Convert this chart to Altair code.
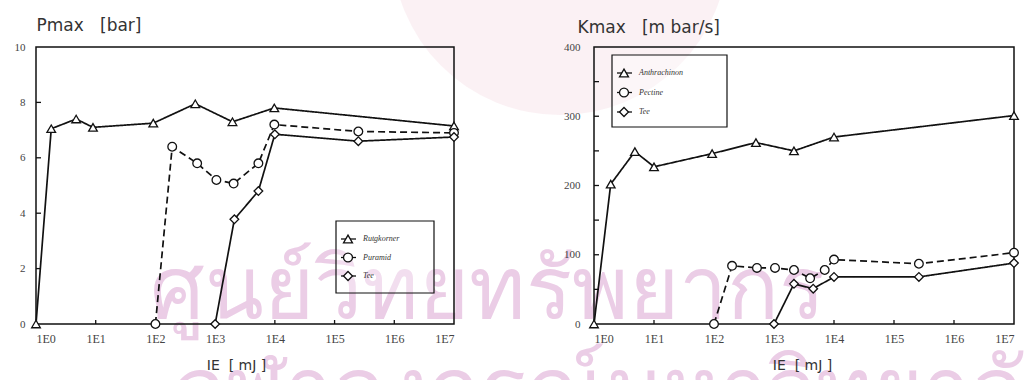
import altair as alt
import pandas as pd

# Ignition energy decades shown on both x axes
IE_TICKS = [1, 10, 100, 1000, 1e4, 1e5, 1e6, 1e7]

# Maximum explosion pressure Pmax [bar]
P_NAMES = ["Rutgkorner", "Puramid", "Tee"]
P_TRI_E = [1, 1.8, 4.7, 9, 92, 465, 1950, 9800, 1e7]
P_TRI_V = [0, 7.05, 7.4, 7.1, 7.25, 7.95, 7.3, 7.8, 7.15]
P_CIR_E = [100, 191, 500, 1050, 2040, 5300, 9800, 2.5e5, 1e7]
P_CIR_V = [0, 6.4, 5.8, 5.2, 5.07, 5.8, 7.2, 6.95, 6.9]
P_DIA_E = [1000, 2100, 5300, 1e4, 2.5e5, 1e7]
P_DIA_V = [0, 3.78, 4.8, 6.85, 6.6, 6.75]
P_TICKS = [0, 2, 4, 6, 8, 10]

# Maximum rate of pressure rise Kmax [m bar/s]
K_NAMES = ["Anthrachinon", "Pectine", "Tee"]
K_TRI_E = [1, 1.9, 4.8, 10, 93, 500, 2150, 1e4, 1e7]
K_TRI_V = [0, 202, 249, 227, 246, 262, 250, 270, 301]
K_CIR_E = [100, 200, 520, 1040, 2150, 4000, 7000, 1e4, 2.6e5, 1e7]
K_CIR_V = [0, 84, 81, 81, 78, 66, 78, 93, 87, 103]
K_DIA_E = [1000, 2150, 4500, 1e4, 2.6e5, 1e7]
K_DIA_V = [0, 58, 51, 68, 68, 88]
K_TICKS = [0, 50, 100, 150, 200, 250, 300, 350, 400]

# Library stamp printed behind the figure
STAMP_LINES = ["ศูนย์วิทยทรัพยากร", "จุฬาลงกรณ์มหาวิทยาลัย"]

SHAPES = ["triangle-up", "circle", "diamond"]
DASHES = [[1, 0], [7, 4], [1, 0]]

INK = "#111111"
LABEL_FONT = "Liberation Serif"
TITLE_FONT = "DejaVu Sans"
NB = "\u00a0"

H = 277          # plot height shared by both panels
TOTAL_W = 978    # both panels plus the gap between them


def build_frame(names, series):
    rows = []
    for name, (es, vs) in zip(names, series):
        for i, (e, v) in enumerate(zip(es, vs)):
            rows.append({"S": name, "D": name, "E": e, "V": v, "i": i})
    return pd.DataFrame(rows)


def key_box(names, bx, by, bw, bh, row0, row_step):
    """Boxed key with one symbol and label per series."""
    one = pd.DataFrame({"k": [0]})
    parts = [
        alt.Chart(one).mark_rect(fill="white", fillOpacity=0.35, stroke=INK,
                                 strokeWidth=1.2).encode(
            x=alt.value(bx), x2=alt.value(bx + bw),
            y=alt.value(by), y2=alt.value(by + bh),
        )
    ]
    for i, name in enumerate(names):
        yy = by + row0 + row_step * i
        parts.append(alt.Chart(one).mark_rule(color=INK, strokeWidth=1.3).encode(
            x=alt.value(bx + 5), x2=alt.value(bx + 20), y=alt.value(yy)))
        parts.append(alt.Chart(one).mark_point(
            shape=SHAPES[i], filled=True, fill="white", stroke=INK,
            strokeWidth=1.3, size=80, opacity=1,
        ).encode(x=alt.value(bx + 12), y=alt.value(yy)))
        parts.append(alt.Chart(pd.DataFrame({"t": [name]})).mark_text(
            align="left", baseline="middle", font=LABEL_FONT, fontSize=8,
            fontStyle="italic", color="#333",
        ).encode(text="t:N", x=alt.value(bx + 27), y=alt.value(yy)))
    return parts


def panel(names, series, yticks, ytitle, ytitle_x, ytitle_y, xtitle_x,
          x0, x1, ylabel_pad, key):
    df = build_frame(names, series)
    xscale = alt.Scale(type="log", domain=[1, 1e7], range=[x0, x1])
    yscale = alt.Scale(domain=[yticks[0], yticks[-1]])

    x_axis = alt.Axis(
        orient="bottom", values=IE_TICKS, zindex=2,
        labelExpr="'1E' + format(log(datum.value) / LN10, '.0f')",
        tickSize=0, domain=False, grid=False, labelPadding=9,
        labelFont=LABEL_FONT, labelFontSize=12, labelColor="#444",
        title=f"IE{NB}{NB}[{NB}mJ{NB}]", titleFont=TITLE_FONT, titleFontSize=14,
        titleFontWeight="normal", titleColor="#333", titleX=xtitle_x,
        titleY=34, titleAlign="center", titleBaseline="top",
    )
    y_axis = alt.Axis(
        orient="left", offset=-x0, values=yticks, tickSize=0, domain=False,
        grid=False, labelPadding=ylabel_pad, labelOverlap=False, zindex=2,
        labelFont=LABEL_FONT, labelFontSize=11, labelColor="#444",
        title=ytitle, titleAngle=0, titleAlign="left", titleBaseline="alphabetic",
        titleX=ytitle_x, titleY=ytitle_y, titleFont=TITLE_FONT, titleFontSize=17,
        titleFontWeight="normal", titleColor="#333",
    )

    # panel frame drawn from the axis extents
    frame = alt.Chart(pd.DataFrame({
        "E": [1], "E2": [1e7], "V": [yticks[0]], "V2": [yticks[-1]]
    })).mark_rect(fillOpacity=0, stroke=INK, strokeWidth=1.5).encode(
        x=alt.X("E:Q", scale=xscale, axis=x_axis), x2="E2:Q",
        y=alt.Y("V:Q", scale=yscale, axis=y_axis), y2="V2:Q",
    )

    base = alt.Chart(df)
    lines = base.mark_line(color=INK, strokeWidth=1.7).encode(
        x=alt.X("E:Q", scale=xscale),
        y=alt.Y("V:Q", scale=yscale),
        detail="S:N",
        order="i:O",
        strokeDash=alt.StrokeDash(
            "D:N", scale=alt.Scale(domain=names, range=DASHES), legend=None,
        ),
    )
    points = base.mark_point(
        filled=True, fill="white", stroke=INK, strokeWidth=1.3, size=75, opacity=1
    ).encode(
        x=alt.X("E:Q", scale=xscale),
        y=alt.Y("V:Q", scale=yscale),
        shape=alt.Shape("S:N", scale=alt.Scale(domain=names, range=SHAPES),
                        legend=None),
    )

    # inward tick marks along the left and bottom frame
    ytick_rules = alt.Chart(pd.DataFrame({"V": yticks[1:-1]})).mark_rule(
        color=INK, strokeWidth=1.3
    ).encode(
        y=alt.Y("V:Q", scale=yscale), x=alt.value(x0), x2=alt.value(x0 + 5)
    )
    xtick_rules = alt.Chart(pd.DataFrame({"E": IE_TICKS[1:-1]})).mark_rule(
        color=INK, strokeWidth=1.3
    ).encode(
        x=alt.X("E:Q", scale=xscale), y=alt.value(H), y2=alt.value(H - 4)
    )

    return alt.layer(frame, ytick_rules, xtick_rules, lines, points,
                     *key_box(names, *key))


left = panel(
    P_NAMES, [(P_TRI_E, P_TRI_V), (P_CIR_E, P_CIR_V), (P_DIA_E, P_DIA_V)],
    P_TICKS, f"Pmax{NB}{NB}{NB}[bar]", 0, -17, 200, 0, 418, 11,
    (300, 174, 98, 72, 18, 18.5),
)
right = panel(
    K_NAMES, [(K_TRI_E, K_TRI_V), (K_CIR_E, K_CIR_V), (K_DIA_E, K_DIA_V)],
    K_TICKS, f"Kmax{NB}{NB}{NB}[m bar/s]", -17, -15, 766, 558, 978, 14,
    (576, 8, 115, 72, 18, 19.5),
)

# faint crest tint at the top and the stamp lettering, all behind the data
tint = alt.Chart(pd.DataFrame({"k": [0]})).mark_circle(
    color="#efc8d5", opacity=0.25, size=113000
).encode(x=alt.value(524), y=alt.value(-100))
stamp = alt.Chart(pd.DataFrame({"t": [STAMP_LINES[0]]})).mark_text(
    align="left", baseline="alphabetic", fontSize=86, font="Noto Sans",
    color="#ebcde6",
).encode(text="t:N", x=alt.value(114), y=alt.value(271))
stamp2 = alt.Chart(pd.DataFrame({"t": [STAMP_LINES[1]]})).mark_text(
    align="left", baseline="alphabetic", fontSize=86, font="Noto Sans",
    color="#ebcde6",
).encode(text="t:N", x=alt.value(140), y=alt.value(372))

chart = alt.layer(tint, stamp, stamp2, left, right).resolve_scale(
    x="independent", y="independent", shape="independent", strokeDash="independent"
).properties(
    width=TOTAL_W, height=H,
    autosize=alt.AutoSizeParams(type="none"),
    padding={"left": 36, "top": 47, "right": 10, "bottom": 56},
    background="white",
).configure_view(stroke=None)

chart.save("out.html", embed_options={"renderer": "svg", "actions": False})
